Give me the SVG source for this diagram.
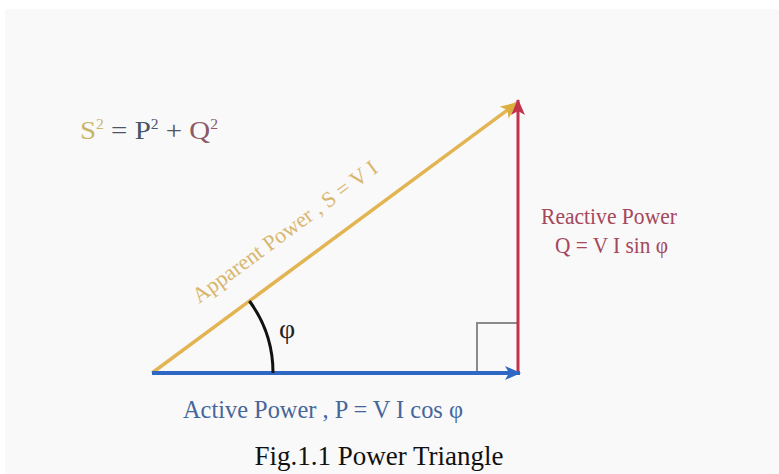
<svg xmlns="http://www.w3.org/2000/svg" width="779" height="474" viewBox="0 0 779 474">
<defs>
<style>
.lbl{font-family:"Liberation Serif","DejaVu Serif",serif;}
.cap{font-family:"Liberation Serif","Times New Roman",serif;font-size:27px;fill:#111;}
</style>
<marker id="ab" viewBox="0 0 16 14" refX="15" refY="7" markerWidth="16" markerHeight="14" markerUnits="userSpaceOnUse" orient="auto"><path d="M0,0 L16,7 L0,14 L4,7 Z" fill="#2f68c4"/></marker>
<marker id="ar" viewBox="0 0 16 14" refX="15" refY="7" markerWidth="18" markerHeight="14" markerUnits="userSpaceOnUse" orient="auto"><path d="M0,0 L16,7 L0,14 L4,7 Z" fill="#c2324c"/></marker>
<marker id="ay" viewBox="0 0 16 14" refX="15" refY="7" markerWidth="18" markerHeight="15" markerUnits="userSpaceOnUse" orient="auto"><path d="M0,0 L16,7 L0,14 L4,7 Z" fill="#dcae3c"/></marker>
</defs>
<rect x="0" y="0" width="779" height="474" fill="#ffffff"/>
<rect x="5" y="9" width="774" height="465" fill="#f9f9f9"/>
<g id="connectors">
<path d="M477,373 V323 H518" fill="none" stroke="#8a8a8a" stroke-width="2"/>
<line x1="152" y1="373" x2="517" y2="103" stroke="#e2b452" stroke-width="3.5" marker-end="url(#ay)"/>
<line x1="518" y1="373" x2="518" y2="100" stroke="#c2324c" stroke-width="3" marker-end="url(#ar)"/>
<line x1="152" y1="373" x2="520" y2="373" stroke="#2f68c4" stroke-width="4" marker-end="url(#ab)"/>
<path d="M273,373 A121,121 0 0 0 249.4,301" fill="none" stroke="#111" stroke-width="3"/>
</g>
<g id="formula">
<text class="lbl" x="80" y="139" font-size="26" textLength="138" lengthAdjust="spacingAndGlyphs"><tspan fill="#c9b56a">S</tspan><tspan fill="#c9b56a" font-size="14" dy="-10">2</tspan><tspan fill="#4a5568" dy="10"> = P</tspan><tspan fill="#4a5568" font-size="14" dy="-10">2</tspan><tspan fill="#555" dy="10"> + </tspan><tspan fill="#8a5a66">Q</tspan><tspan fill="#8a5a66" font-size="14" dy="-10">2</tspan></text>
</g>
<g id="apparent">
<text class="lbl" x="0" y="0" font-size="22" fill="#d8b66e" transform="translate(199,304) rotate(-36.4)" textLength="224" lengthAdjust="spacingAndGlyphs">Apparent Power , S = V I</text>
</g>
<g id="phi">
<text class="lbl" x="279" y="338" font-size="28" fill="#222">φ</text>
</g>
<g id="reactive">
<text class="lbl" x="541" y="224" font-size="23" fill="#a4485c" textLength="136" lengthAdjust="spacingAndGlyphs">Reactive Power</text>
<text class="lbl" x="555" y="253" font-size="23" fill="#a4485c" textLength="113" lengthAdjust="spacingAndGlyphs">Q = V I sin φ</text>
</g>
<g id="active">
<text class="lbl" x="183" y="418" font-size="26" fill="#45669a" textLength="280" lengthAdjust="spacingAndGlyphs">Active Power ,  P = V I cos φ</text>
</g>
<g id="caption">
<text class="cap" x="379" y="465" text-anchor="middle">Fig.1.1  Power Triangle</text>
</g>
</svg>
